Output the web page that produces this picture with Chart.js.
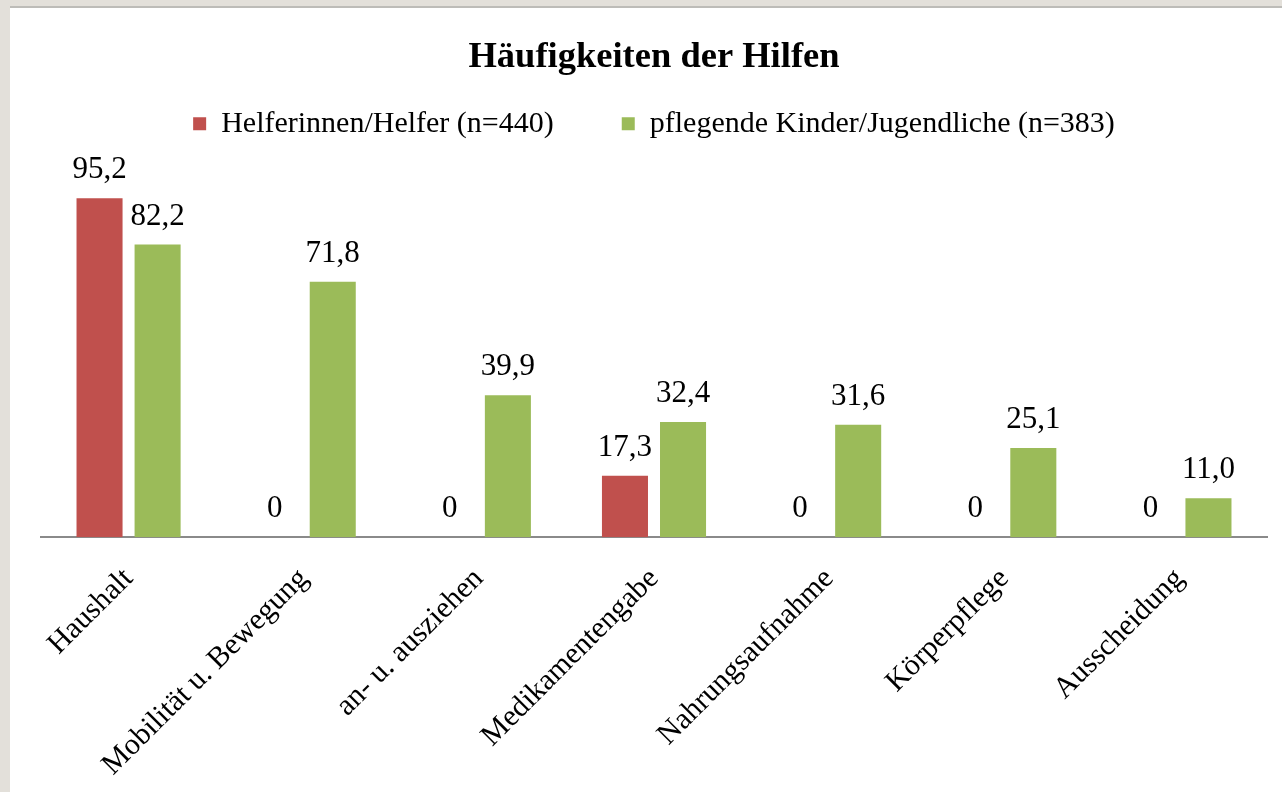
<!DOCTYPE html>
<html lang="de">
<head>
<meta charset="utf-8">
<title>Häufigkeiten der Hilfen</title>
<script src="https://cdn.jsdelivr.net/npm/chart.js@4/dist/chart.umd.min.js"></script>
<style>
    html, body {
        margin: 0;
        padding: 0;
        overflow: hidden;
        background: #e3e0da;
        width: 1282px;
        height: 792px;
    }
    .panel {
        position: absolute;
        left: 10px;
        top: 6px;
        width: 1290px;
        height: 786px;
        background: #fff;
        border-top: 2px solid #bdbcb8;
    }
    .panel canvas {
        display: block;
    }
</style>
</head>
<body>
<div class="panel">
    <canvas id="grafico-hilfen" width="1290" height="784"></canvas>
</div>
<script>
const kategorien = ['Haushalt', 'Mobilität u. Bewegung', 'an- u. ausziehen', 'Medikamentengabe',
                    'Nahrungsaufnahme', 'Körperpflege', 'Ausscheidung'];
const helfer = [95.2, 0, 0, 17.3, 0, 0, 0];
const kinder = [82.2, 71.8, 39.9, 32.4, 31.6, 25.1, 11.0];
const serien = ['Helferinnen/Helfer (n=440)', 'pflegende Kinder/Jugendliche (n=383)'];
const titel = 'Häufigkeiten der Hilfen';

const schrift = '"Liberation Serif", "Times New Roman", serif';
Chart.defaults.font.family = schrift;
Chart.defaults.color = '#000';

function formatieren(wert) {
    if (wert === 0) return '0';
    return wert.toFixed(1).replace('.', ',');
}

// Werte ueber die Balken schreiben
const wertePlugin = {
    id: 'werte',
    afterDatasetsDraw(chart) {
        const ctx = chart.ctx;
        ctx.save();
        ctx.font = '31px ' + schrift;
        ctx.fillStyle = '#000';
        ctx.textAlign = 'center';
        ctx.textBaseline = 'alphabetic';
        chart.data.datasets.forEach((ds, i) => {
            chart.getDatasetMeta(i).data.forEach((bar, j) => {
                ctx.fillText(formatieren(ds.data[j]), bar.x, bar.y - 20);
            });
        });
        ctx.restore();
    }
};

const ctx = document.getElementById('grafico-hilfen').getContext('2d');
new Chart(ctx, {
    type: 'bar',
    data: {
        labels: kategorien,
        datasets: [
            {
                label: serien[0],
                data: helfer,
                backgroundColor: '#c0504d',
                categoryPercentage: 0.663,
                barPercentage: 0.793
            },
            {
                label: serien[1],
                data: kinder,
                backgroundColor: '#9bbb59',
                categoryPercentage: 0.663,
                barPercentage: 0.793
            }
        ]
    },
    options: {
        responsive: false,
        animation: false,
        layout: { padding: { left: 31, right: 33, top: 0, bottom: -7 } },
        plugins: {
            title: {
                display: true,
                text: titel,
                color: '#000',
                font: { size: 36.5, weight: 'bold' },
                padding: { top: 27.5, bottom: -38.5 }
            },
            legend: {
                position: 'top',
                labels: {
                    boxWidth: 13,
                    boxHeight: 13,
                    padding: 68,
                    color: '#000',
                    font: { size: 30 }
                }
            },
            tooltip: { enabled: false }
        },
        scales: {
            x: {
                grid: { display: false },
                border: { display: true, color: '#8a8a8a', width: 2 },
                ticks: {
                    color: '#000',
                    font: { size: 30 },
                    maxRotation: 45,
                    minRotation: 45,
                    autoSkip: false,
                    padding: 16
                }
            },
            y: {
                display: false,
                min: 0,
                max: 109.1
            }
        }
    },
    plugins: [wertePlugin]
});
</script>
</body>
</html>
